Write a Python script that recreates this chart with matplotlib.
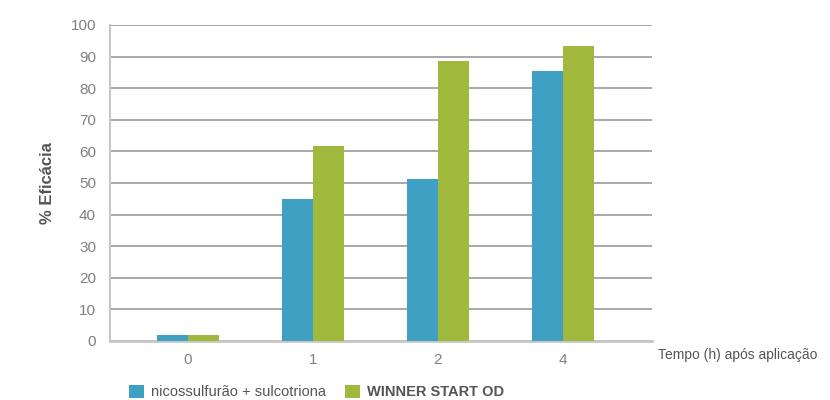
import matplotlib
matplotlib.use("Agg")
import matplotlib.pyplot as plt
import numpy as np

categories = ["0", "1", "2", "4"]
series_names = ["nicossulfurão + sulcotriona", "WINNER START OD"]
nico_values = [1.8, 45.0, 51.3, 85.4]
winner_values = [1.8, 61.8, 88.6, 93.4]
y_ticks = [0, 10, 20, 30, 40, 50, 60, 70, 80, 90, 100]

plt.rcParams['font.family'] = ['Liberation Sans', 'DejaVu Sans']

blue = "#3fa0c3"
green = "#a0b83c"
grid_c = "#9a9a9a"
spine_c = "#c6c6c6"
tick_c = "#808080"
label_c = "#555555"

fig = plt.figure(figsize=(8.3, 4.0), dpi=100)
ax = fig.add_axes([110/830, 1-341/400, (652-110)/830, (341-25)/400])

x = np.arange(len(categories))
w = 0.25
b1 = ax.bar(x - w/2, nico_values, w, color=blue, label=series_names[0], zorder=3)
b2 = ax.bar(x + w/2, winner_values, w, color=green, label=series_names[1], zorder=3)

ax.set_xlim(-0.624, 3.712)
ax.set_ylim(0, 100)
ax.set_yticks(y_ticks)
ax.set_xticks(x)
ax.set_xticklabels(categories)
ax.yaxis.grid(True, color=grid_c, linewidth=1.2, zorder=0)
ax.set_axisbelow(True)
for s in ["top", "right"]:
    ax.spines[s].set_visible(False)
ax.spines["left"].set_color(spine_c)
ax.spines["bottom"].set_color(spine_c)
ax.spines["left"].set_linewidth(1.5)
ax.spines["bottom"].set_linewidth(2)
ax.tick_params(axis="both", length=0, colors=tick_c, labelsize=11)
ax.tick_params(axis="y", pad=10)
ax.tick_params(axis="x", pad=9)

ax.set_ylabel("% Eficácia", fontsize=12, fontweight="bold", color=label_c, labelpad=11)

fig.text(658/830, 1-355/400, "Tempo (h) após aplicação", fontsize=10, color=label_c,
         ha="left", va="center")

leg = fig.legend(handles=[b1, b2], labels=series_names, loc="center left",
                 bbox_to_anchor=(116/830, 1-392/400), ncol=2, frameon=False,
                 fontsize=10.5, handlelength=1.0, handleheight=1.0, columnspacing=1.3,
                 handletextpad=0.5)
for t in leg.get_texts():
    t.set_color(label_c)
leg.get_texts()[1].set_fontweight("bold")

fig.savefig("out.png", dpi=100)
